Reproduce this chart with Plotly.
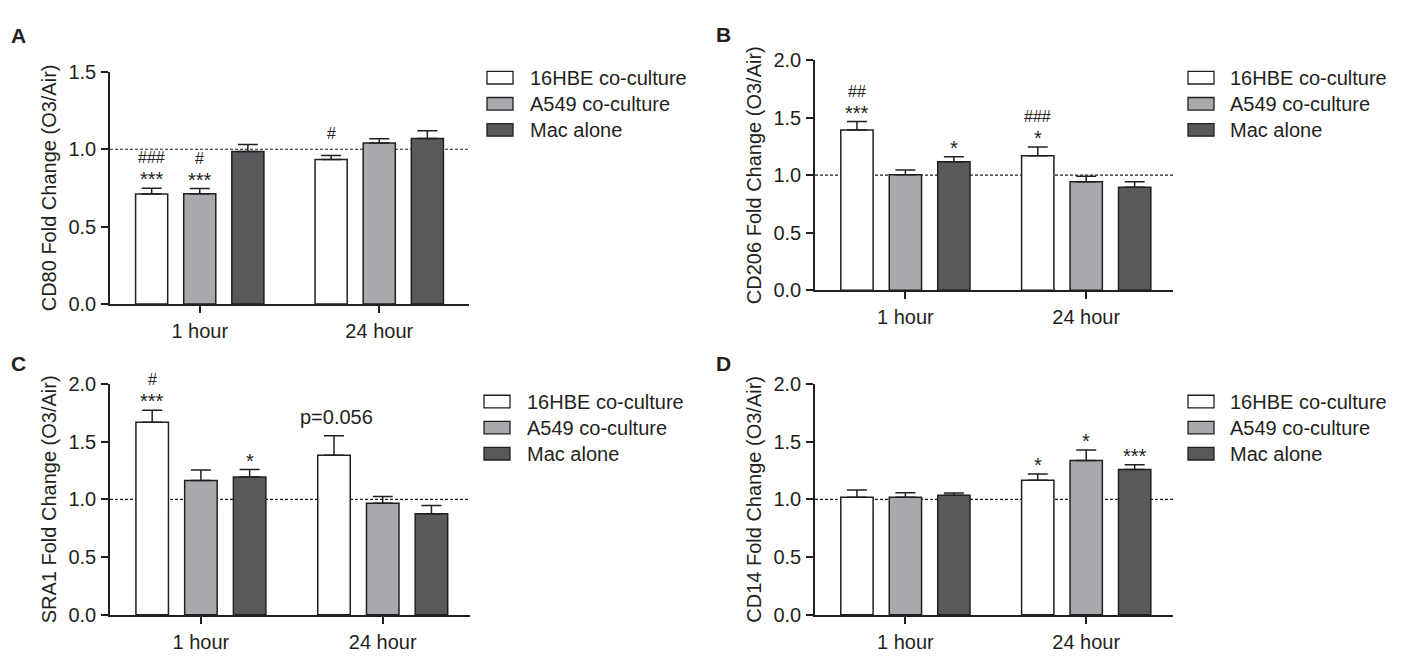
import plotly.graph_objects as go

# ---------------- data ----------------
time_points = ["1 hour", "24 hour"]
series_names = ["16HBE co-culture", "A549 co-culture", "Mac alone"]
series_colors = ["#ffffff", "#a7a9ac", "#58595b"]

# Panel A: CD80
A_title = "CD80 Fold Change (O3/Air)"
A_16HBE = [0.71, 0.933]
A_16HBE_err = [0.037, 0.027]
A_A549 = [0.712, 1.04]
A_A549_err = [0.034, 0.027]
A_Mac = [0.985, 1.069]
A_Mac_err = [0.045, 0.051]
A_stars = [["***", ""], ["***", ""], ["", ""]]
A_hashes = [["###", "#"], ["#", ""], ["", ""]]
A_yticks = [0.0, 0.5, 1.0, 1.5]

# Panel B: CD206
B_title = "CD206 Fold Change (O3/Air)"
B_16HBE = [1.393, 1.169]
B_16HBE_err = [0.073, 0.075]
B_A549 = [1.004, 0.942]
B_A549_err = [0.042, 0.048]
B_Mac = [1.116, 0.895]
B_Mac_err = [0.044, 0.047]
B_stars = [["***", "*"], ["", ""], ["*", ""]]
B_hashes = [["##", "###"], ["", ""], ["", ""]]
B_yticks = [0.0, 0.5, 1.0, 1.5, 2.0]

# Panel C: SRA1
C_title = "SRA1 Fold Change (O3/Air)"
C_16HBE = [1.668, 1.381]
C_16HBE_err = [0.104, 0.17]
C_A549 = [1.163, 0.966]
C_A549_err = [0.092, 0.058]
C_Mac = [1.194, 0.876]
C_Mac_err = [0.064, 0.07]
C_stars = [["***", "p=0.056"], ["", ""], ["*", ""]]
C_hashes = [["#", ""], ["", ""], ["", ""]]
C_yticks = [0.0, 0.5, 1.0, 1.5, 2.0]

# Panel D: CD14
D_title = "CD14 Fold Change (O3/Air)"
D_16HBE = [1.018, 1.166]
D_16HBE_err = [0.062, 0.053]
D_A549 = [1.018, 1.336]
D_A549_err = [0.04, 0.092]
D_Mac = [1.035, 1.258]
D_Mac_err = [0.02, 0.042]
D_stars = [["", "*"], ["", "*"], ["", "***"]]
D_hashes = [["", ""], ["", ""], ["", ""]]
D_yticks = [0.0, 0.5, 1.0, 1.5, 2.0]

REF_LINE = 1.0

# ---------------- layout geometry ----------------
W, H = 1409, 660
INK = "#231f20"
FONT = "Liberation Sans, Arial, Helvetica, sans-serif"
BARGAP = 0.196
BARGROUPGAP = 0.333
SLOT = (1 - BARGAP) / 3.0


def px_x(p):
    return p / W


def px_y(p):
    return 1 - p / H


panels = [
    dict(letter="A", title=A_title, vals=[A_16HBE, A_A549, A_Mac],
         errs=[A_16HBE_err, A_A549_err, A_Mac_err], stars=A_stars, hashes=A_hashes,
         yticks=A_yticks, yrange=[0, 1.5], xrange=[-0.5, 1.5],
         xdom=(110, 469), ydom=(303, 63), letter_pos=(9, 25),
         leg_box=487, leg_text=528, leg_rows=[69, 96, 123]),
    dict(letter="B", title=B_title, vals=[B_16HBE, B_A549, B_Mac],
         errs=[B_16HBE_err, B_A549_err, B_Mac_err], stars=B_stars, hashes=B_hashes,
         yticks=B_yticks, yrange=[0, 2.0], xrange=[-0.5, 1.48],
         xdom=(815, 1173), ydom=(289, 50.7), letter_pos=(714, 24),
         leg_box=1188, leg_text=1228, leg_rows=[69, 96, 123]),
    dict(letter="C", title=C_title, vals=[C_16HBE, C_A549, C_Mac],
         errs=[C_16HBE_err, C_A549_err, C_Mac_err], stars=C_stars, hashes=C_hashes,
         yticks=C_yticks, yrange=[0, 2.0], xrange=[-0.5, 1.48],
         xdom=(110, 470), ydom=(624.7, 385.7), letter_pos=(9, 365),
         leg_box=484, leg_text=525, leg_rows=[404, 431, 458]),
    dict(letter="D", title=D_title, vals=[D_16HBE, D_A549, D_Mac],
         errs=[D_16HBE_err, D_A549_err, D_Mac_err], stars=D_stars, hashes=D_hashes,
         yticks=D_yticks, yrange=[0, 2.0], xrange=[-0.5, 1.48],
         xdom=(815, 1173), ydom=(624.7, 385.7), letter_pos=(714, 365),
         leg_box=1188, leg_text=1228, leg_rows=[404, 431, 458]),
]

fig = go.Figure()
shapes = []
annotations = []
layout = dict(
    width=W, height=H, margin=dict(l=0, r=0, t=0, b=0),
    paper_bgcolor="white", plot_bgcolor="white",
    barmode="group", bargap=BARGAP, bargroupgap=BARGROUPGAP,
    showlegend=False, font=dict(family=FONT, color=INK, size=20),
)

x_index = list(range(len(time_points)))

for k, p in enumerate(panels):
    sfx = "" if k == 0 else str(k + 1)
    xa, ya = "x" + sfx, "y" + sfx
    for s in range(3):
        fig.add_trace(go.Bar(
            x=x_index, y=p["vals"][s], name=series_names[s],
            marker=dict(color=series_colors[s], line=dict(color=INK, width=1.5)),
            error_y=dict(type="data", symmetric=False, array=p["errs"][s],
                         arrayminus=[0] * len(x_index), color=INK,
                         thickness=1.5, width=10),
            xaxis=xa, yaxis=ya, hoverinfo="skip",
        ))
    layout["xaxis" + sfx] = dict(
        domain=[px_x(p["xdom"][0]), px_x(p["xdom"][1])], range=p["xrange"],
        anchor=ya, tickmode="array", tickvals=x_index, ticktext=time_points,
        ticks="outside", ticklen=7, tickwidth=1.5, tickcolor=INK,
        showline=True, linecolor=INK, linewidth=1.5, showgrid=False,
        zeroline=False, tickfont=dict(size=20, color=INK), ticklabelstandoff=1,
        fixedrange=True,
    )
    layout["yaxis" + sfx] = dict(
        domain=[px_y(p["ydom"][0]), px_y(p["ydom"][1])], range=p["yrange"],
        anchor=xa, tickmode="array", tickvals=p["yticks"],
        ticktext=["%.1f" % v for v in p["yticks"]],
        ticks="outside", ticklen=7, tickwidth=1.5, tickcolor=INK,
        showline=True, linecolor=INK, linewidth=1.5, showgrid=False,
        zeroline=False, tickfont=dict(size=20, color=INK), ticklabelstandoff=1,
        title=dict(text=p["title"], font=dict(size=20, color=INK), standoff=6),
        fixedrange=True,
    )
    # reference dashed line
    shapes.append(dict(type="line", xref=xa + " domain", x0=0, x1=1,
                       yref=ya, y0=REF_LINE, y1=REF_LINE, layer="below",
                       line=dict(color=INK, width=1.2, dash="3px,2px")))
    # significance marks
    for s in range(3):
        for t in x_index:
            xpos = t + (s - 1) * SLOT
            top = p["vals"][s][t] + p["errs"][s][t]
            star = p["stars"][s][t]
            hsh = p["hashes"][s][t]
            if star:
                if star.startswith("p"):
                    annotations.append(dict(x=xpos + SLOT * 0.05, y=top, xref=xa, yref=ya,
                                            text=star, showarrow=False, yanchor="bottom",
                                            yshift=6, font=dict(size=20, color=INK)))
                else:
                    annotations.append(dict(x=xpos, y=top, xref=xa, yref=ya,
                                            text=star, showarrow=False, yanchor="bottom",
                                            yshift=-4, font=dict(size=20, color=INK)))
            if hsh:
                annotations.append(dict(x=xpos, y=top, xref=xa, yref=ya,
                                        text=hsh, showarrow=False, yanchor="bottom",
                                        yshift=20 if star else 11,
                                        font=dict(size=16, color=INK)))
    # panel letter
    annotations.append(dict(x=px_x(p["letter_pos"][0]), y=px_y(p["letter_pos"][1]),
                            xref="paper", yref="paper", text="<b>%s</b>" % p["letter"],
                            showarrow=False, xanchor="left", yanchor="middle",
                            font=dict(size=21, color=INK)))
    # manual legend
    for s in range(3):
        cy = p["leg_rows"][s]
        shapes.append(dict(type="rect", xref="paper", yref="paper",
                           x0=px_x(p["leg_box"]), x1=px_x(p["leg_box"] + 26),
                           y0=px_y(cy + 6.5), y1=px_y(cy - 6.5),
                           fillcolor=series_colors[s], line=dict(color=INK, width=1.3)))
        annotations.append(dict(x=px_x(p["leg_text"]), y=px_y(cy), xref="paper", yref="paper",
                                text=series_names[s], showarrow=False, xanchor="left",
                                yanchor="middle", font=dict(size=20, color=INK)))

layout["shapes"] = shapes
layout["annotations"] = annotations
fig.update_layout(**layout)
fig.write_html("out.html", config={"displayModeBar": False},
               post_script="document.body.style.margin='0px';document.body.style.overflow='hidden';")
